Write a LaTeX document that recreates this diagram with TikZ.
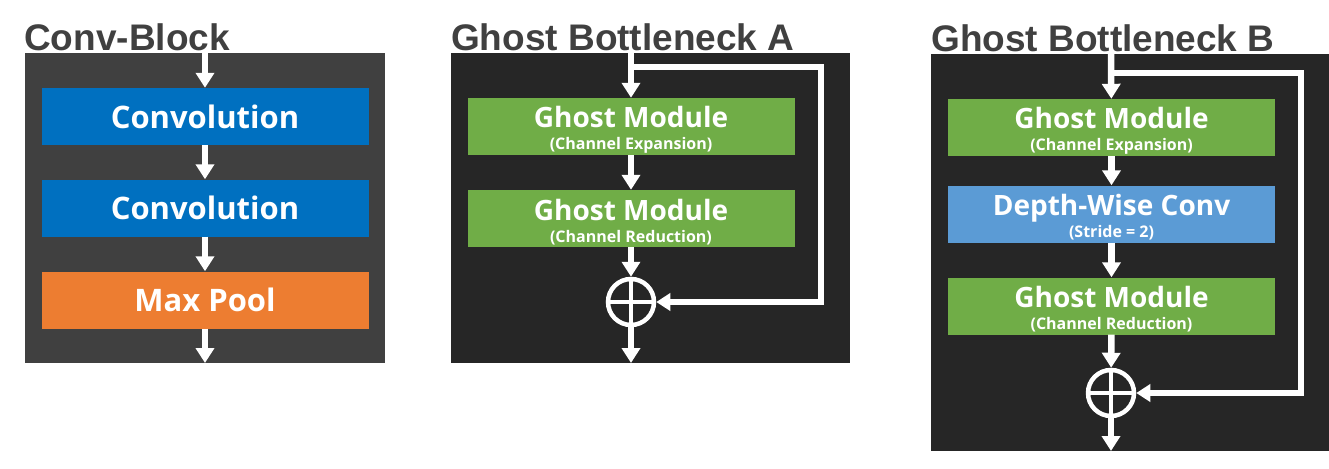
\documentclass[tikz,border=0pt]{standalone}
\usepackage{fontspec}
\setmainfont{Open Sans}
\newfontfamily\titlefont{Liberation Sans}
\usetikzlibrary{arrows.meta}

\definecolor{titlegray}{HTML}{404040}
\definecolor{convpanel}{HTML}{404040}
\definecolor{ghostpanel}{HTML}{262626}
\definecolor{convblue}{HTML}{0070C0}
\definecolor{poolorange}{HTML}{ED7D31}
\definecolor{ghostgreen}{HTML}{70AD47}
\definecolor{dwblue}{HTML}{5B9BD5}

\tikzset{
  title/.style={anchor=base west, inner sep=0pt, text=titlegray,
    font=\titlefont\bfseries\fontsize{37}{37}\selectfont},
  box/.style={minimum width=327pt, minimum height=57pt, inner sep=0pt,
    text=white, align=center, font=\bfseries\fontsize{16}{22}\selectfont},
  flow/.style={white, line width=6.5pt, -{Triangle[width=18pt,length=15pt]}},
  skip/.style={white, line width=5.5pt, -{Triangle[width=17pt,length=14pt]}},
  addnode/.style={circle, draw=white, line width=4.5pt, minimum size=46pt, inner sep=0pt}
}
\newcommand{\bigtxt}{\fontsize{31}{34}\selectfont}
\newcommand{\midtxt}{\rule{0pt}{28pt}\fontsize{28}{28}\selectfont}
\newcommand{\smalltxt}{\fontsize{16}{16}\selectfont}

\begin{document}
\begin{tikzpicture}[x=1pt,y=-1pt]
    \useasboundingbox (0,0) rectangle (1329,468);

    % Draw the panels
    \fill[convpanel] (25,53) rectangle (385,363);
    \fill[ghostpanel] (451,53) rectangle (850,363);
    \fill[ghostpanel] (931,54) rectangle (1329,451);

    % Titles
    \node[title] (titleconv) at (24,51) {Conv-Block};
    \node[title] (titleA) at (451,51) {Ghost Bottleneck A};
    \node[title] (titleB) at (931,52) {Ghost Bottleneck B};

    % Conv-Block
    \node[box, fill=convblue] (conv1) at (205,116.5) {\bigtxt Convolution};
    \node[box, fill=convblue] (conv2) at (205,208) {\bigtxt Convolution};
    \node[box, fill=poolorange] (pool) at (205,300) {\bigtxt Max Pool};
    \coordinate (inconv) at (205,53);
    \coordinate (outconv) at (205,363);
    \draw[flow] (inconv) -- (conv1);
    \draw[flow] (conv1) -- (conv2);
    \draw[flow] (conv2) -- (pool);
    \draw[flow] (pool) -- (outconv);

    % Ghost Bottleneck A
    \node[box, fill=ghostgreen] (gmA1) at (631,126.5)
        {\midtxt Ghost Module\\\smalltxt (Channel Expansion)};
    \node[box, fill=ghostgreen] (gmA2) at (631,218.5)
        {\midtxt Ghost Module\\\smalltxt (Channel Reduction)};
    \node[addnode] (addA) at (631,302) {};
    \draw[white, line width=4.5pt] (addA.north) -- (addA.south) (addA.west) -- (addA.east);
    \coordinate (inA) at (631,53);
    \coordinate (forkA) at (631,67);
    \coordinate (cornerA) at (821,67);
    \coordinate (outA) at (631,363);
    \draw[flow] (inA) -- (gmA1);
    \draw[flow] (gmA1) -- (gmA2);
    \draw[flow] (gmA2) -- (addA);
    \draw[flow] (addA) -- (outA);
    \draw[skip] (forkA) -- (cornerA) |- (addA.east);

    % Ghost Bottleneck B
    \node[box, fill=ghostgreen] (gmB1) at (1111.5,127.5)
        {\midtxt Ghost Module\\\smalltxt (Channel Expansion)};
    \node[box, fill=dwblue] (dwB) at (1111.5,214)
        {\midtxt Depth-Wise Conv\\\smalltxt (Stride = 2)};
    \node[box, fill=ghostgreen] (gmB2) at (1111.5,306)
        {\midtxt Ghost Module\\\smalltxt (Channel Reduction)};
    \node[addnode] (addB) at (1111,393) {};
    \draw[white, line width=4.5pt] (addB.north) -- (addB.south) (addB.west) -- (addB.east);
    \coordinate (inB) at (1111,54);
    \coordinate (forkB) at (1111,73);
    \coordinate (cornerB) at (1301,73);
    \coordinate (outB) at (1111,451);
    \draw[flow] (inB) -- (gmB1);
    \draw[flow] (gmB1) -- (dwB);
    \draw[flow] (dwB) -- (gmB2);
    \draw[flow] (gmB2) -- (addB);
    \draw[flow] (addB) -- (outB);
    \draw[skip] (forkB) -- (cornerB) |- (addB.east);
\end{tikzpicture}
\end{document}
